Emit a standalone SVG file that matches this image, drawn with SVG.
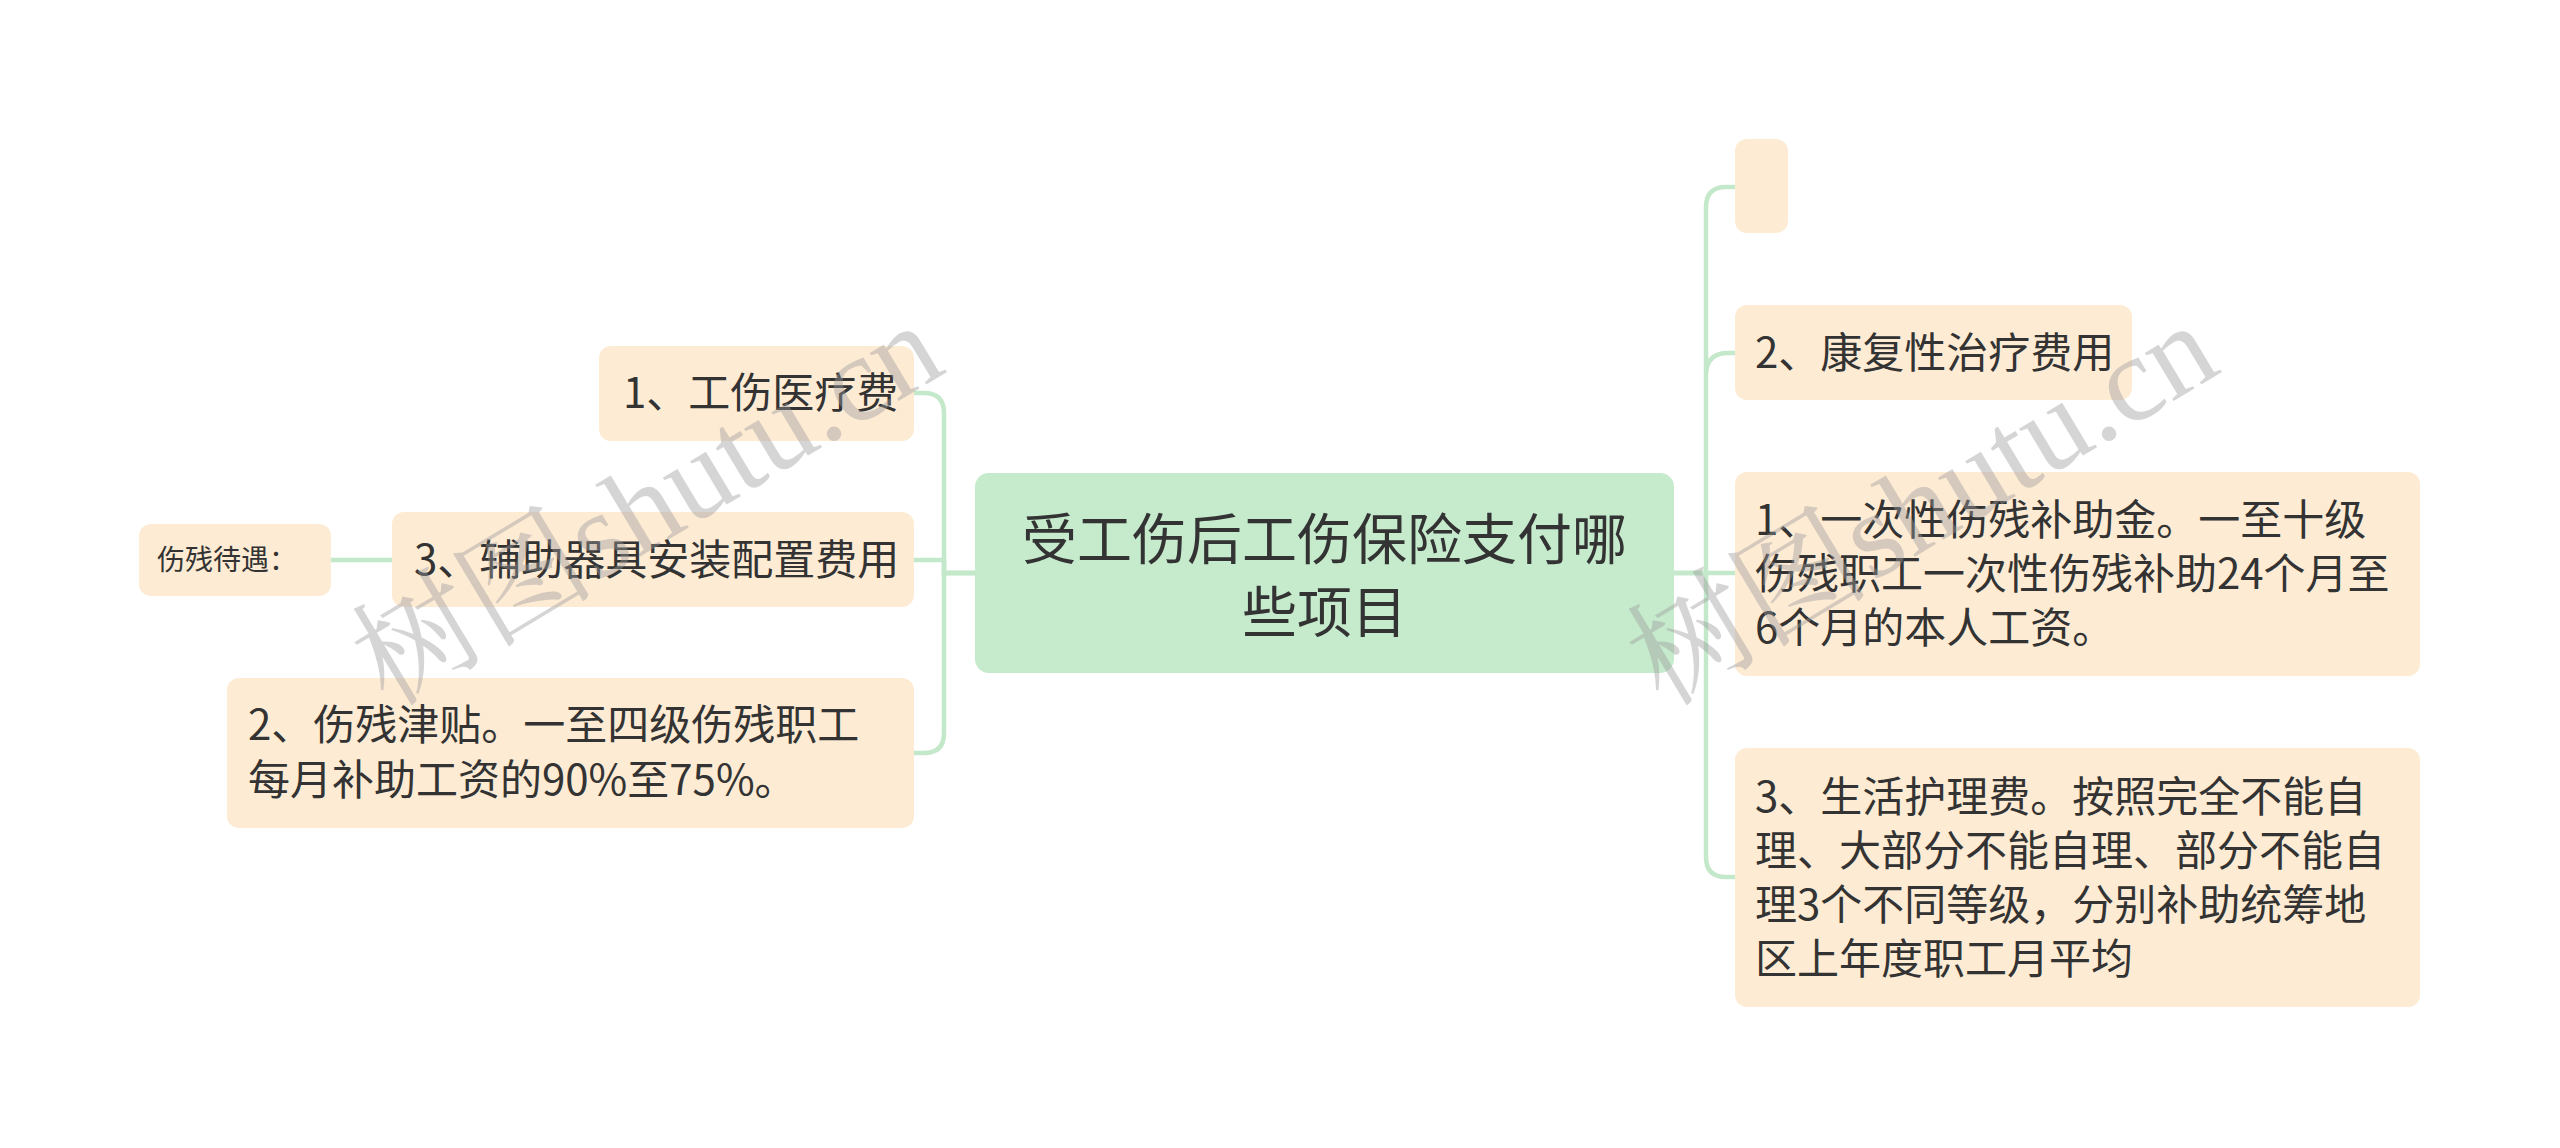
<svg xmlns="http://www.w3.org/2000/svg" width="2560" height="1148" viewBox="0 0 2560 1148">
<style>
.bg{fill:#ffffff}
.node rect{fill:#fdebd4}
.root rect{fill:#c6eacc}
.t{font-family:"Noto Sans CJK SC","Noto Sans",sans-serif;fill:#333333}
.t42{font-size:42px}
.t55{font-size:55px}
.t28{font-size:28px}
.conn path{fill:none;stroke:#c3e8ca;stroke-width:4.5;stroke-linecap:round}
.wm{font-family:"Liberation Serif","Noto Serif CJK SC","Noto Sans CJK SC",serif;font-size:122px;fill:#9a9a9a;fill-opacity:0.42}
</style>
<rect class="bg" x="0" y="0" width="2560" height="1148"/>
<g id="connectors" class="conn">
  <path d="M975 573 H944 V413 Q944 393 924 393 H914"/>
  <path d="M975 573 H944 V560 H914"/>
  <path d="M975 573 H944 V733 Q944 753 924 753 H914"/>
  <path d="M392 560 H331"/>
  <path d="M1674 573 H1706 V207 Q1706 187 1726 187 H1735"/>
  <path d="M1706 372 Q1708 353 1728 353 H1735"/>
  <path d="M1674 573 H1735"/>
  <path d="M1706 573 V857 Q1706 877 1726 877 H1735"/>
</g>
<g id="root" class="root">
  <rect x="975" y="473" width="699" height="200" rx="14"/>
  <text class="t t55" x="1324.5" y="559" text-anchor="middle">受工伤后工伤保险支付哪</text>
  <text class="t t55" x="1324.5" y="632" text-anchor="middle">些项目</text>
</g>
<g id="n-left1" class="node">
  <rect x="599" y="346" width="315" height="95" rx="12"/>
  <text class="t t42" x="623" y="408">1、工伤医疗费</text>
</g>
<g id="n-left2" class="node">
  <rect x="392" y="512" width="522" height="95" rx="12"/>
  <text class="t t42" x="414" y="575">3、辅助器具安装配置费用</text>
</g>
<g id="n-left2a" class="node">
  <rect x="139" y="524" width="192" height="72" rx="12"/>
  <text class="t t28" x="157" y="570">伤残待遇：</text>
</g>
<g id="n-left3" class="node">
  <rect x="227" y="678" width="687" height="150" rx="12"/>
  <text class="t t42" x="248" y="740">2、伤残津贴。一至四级伤残职工</text>
  <text class="t t42" x="248" y="795">每月补助工资的90%至75%。</text>
</g>
<g id="n-right0" class="node">
  <rect x="1735" y="139" width="53" height="94" rx="12"/>
</g>
<g id="n-right1" class="node">
  <rect x="1735" y="305" width="397" height="95" rx="12"/>
  <text class="t t42" x="1755" y="368">2、康复性治疗费用</text>
</g>
<g id="n-right2" class="node">
  <rect x="1735" y="472" width="685" height="204" rx="12"/>
  <text class="t t42" x="1755" y="535">1、一次性伤残补助金。一至十级</text>
  <text class="t t42" x="1755" y="589">伤残职工一次性伤残补助24个月至</text>
  <text class="t t42" x="1755" y="643">6个月的本人工资。</text>
</g>
<g id="n-right3" class="node">
  <rect x="1735" y="748" width="685" height="259" rx="12"/>
  <text class="t t42" x="1755" y="812">3、生活护理费。按照完全不能自</text>
  <text class="t t42" x="1755" y="866">理、大部分不能自理、部分不能自</text>
  <text class="t t42" x="1755" y="920">理3个不同等级，分别补助统筹地</text>
  <text class="t t42" x="1755" y="974">区上年度职工月平均</text>
</g>
<g id="watermark">
  <text class="wm" transform="translate(388 708) rotate(-31)">树图shutu.cn</text>
  <text class="wm" transform="translate(1663 708) rotate(-31)">树图shutu.cn</text>
</g>
</svg>
